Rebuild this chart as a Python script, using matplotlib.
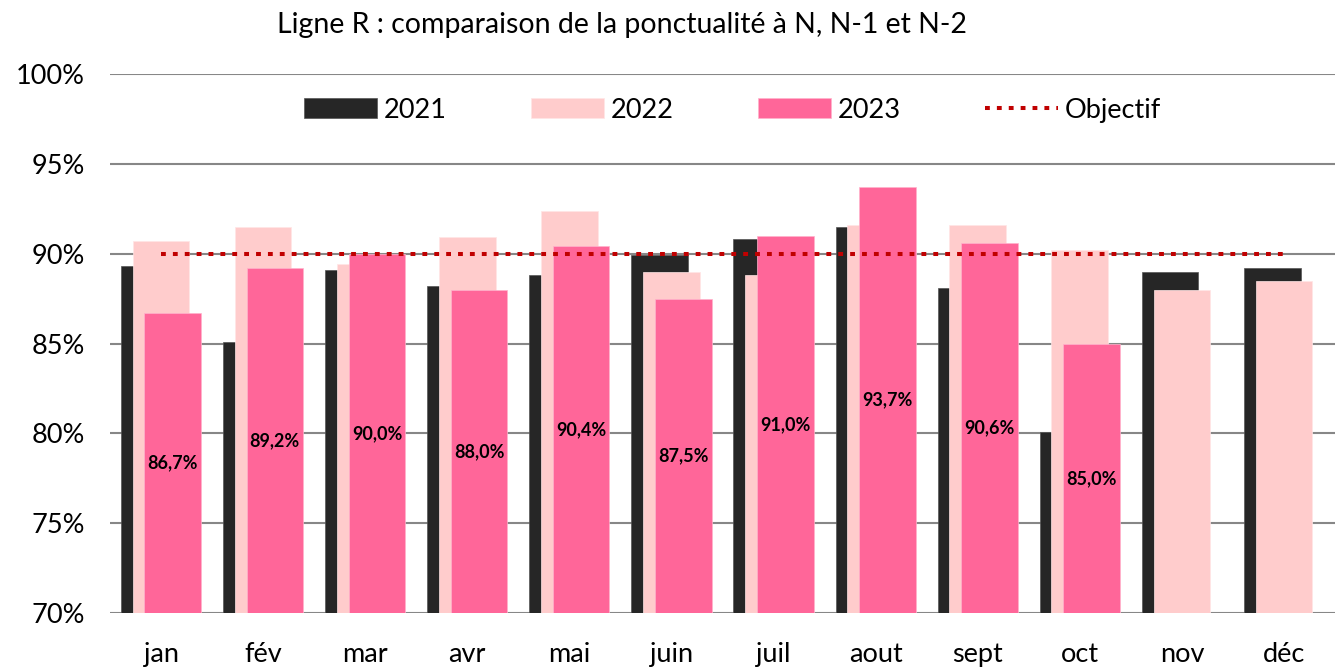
import numpy as np
import matplotlib
matplotlib.use("Agg")
import matplotlib.pyplot as plt

plt.rcParams['font.family'] = ['Lato', 'DejaVu Sans']

months = ['jan', 'fév', 'mar', 'avr', 'mai', 'juin', 'juil', 'aout', 'sept', 'oct', 'nov', 'déc']
p2021 = [89.3, 85.1, 89.1, 88.2, 88.8, 89.9, 90.8, 91.5, 88.1, 80.1, 89.0, 89.2]
p2022 = [90.7, 91.5, 89.4, 90.9, 92.4, 89.0, 88.8, 91.6, 91.6, 90.2, 88.0, 88.5]
p2023 = [86.7, 89.2, 90.0, 88.0, 90.4, 87.5, 91.0, 93.7, 90.6, 85.0]
objectif = [90.0] * 12

c21 = '#262626'
c22 = '#FFCCCC'
c23 = '#FF6699'
cobj = '#C00000'

fig = plt.figure(figsize=(13.41, 6.68), dpi=100)
ax = fig.add_axes([110 / 1341, 1 - 613 / 668, 1225 / 1341, 539 / 668])

x = np.arange(len(months))
w = 0.555
off = 0.115
base = 70

h21 = ax.bar(x - off, np.array(p2021) - base, w, bottom=base, color=c21, label='2021', zorder=2,
             edgecolor='#555555', linewidth=0.5)
h22 = ax.bar(x, np.array(p2022) - base, w, bottom=base, color=c22, label='2022', zorder=3,
             edgecolor='#FFE5E5', linewidth=0.5)
x23 = x[:len(p2023)] + off
h23 = ax.bar(x23, np.array(p2023) - base, w, bottom=base, color=c23, label='2023', zorder=4,
             edgecolor='#FFB3CC', linewidth=0.5)
hobj, = ax.plot(x, objectif, color=cobj, linewidth=2.9, linestyle=(0, (1.2, 1.75)),
                label='Objectif', zorder=5)

# labels au milieu des barres 2023
for xi, v in zip(x23, p2023):
    ax.text(xi, (base + v) / 2, f'{v:.1f}%'.replace('.', ','), ha='center', va='center',
            fontsize=13, fontweight='bold', color='black', zorder=6)

ax.set_ylim(70, 100)
ax.set_xlim(-0.5, 11.5)
ax.set_yticks(np.arange(70, 101, 5))
ax.set_yticklabels([f'{t}%' for t in range(70, 101, 5)])
ax.set_xticks(x)
ax.set_xticklabels(months)
ax.tick_params(axis='both', length=0, labelsize=19.5)
ax.tick_params(axis='y', pad=18)
ax.tick_params(axis='x', pad=21)
ax.yaxis.grid(True, color='#878787', linewidth=1.5, zorder=0)
ax.set_axisbelow(True)
for s in ax.spines.values():
    s.set_visible(False)

ax.legend([h21, h22, h23, hobj], ['2021', '2022', '2023', 'Objectif'],
          loc='center', bbox_to_anchor=(0.508, 0.933), ncol=4, frameon=False,
          fontsize=19.5, handlelength=2.7, handleheight=0.72, columnspacing=3.1,
          handletextpad=0.25)

fig.text(0.4635, 0.963, 'Ligne R : comparaison de la ponctualité à N, N-1 et N-2',
         ha='center', va='center', fontsize=20.5)

fig.savefig('out.png', dpi=100)
